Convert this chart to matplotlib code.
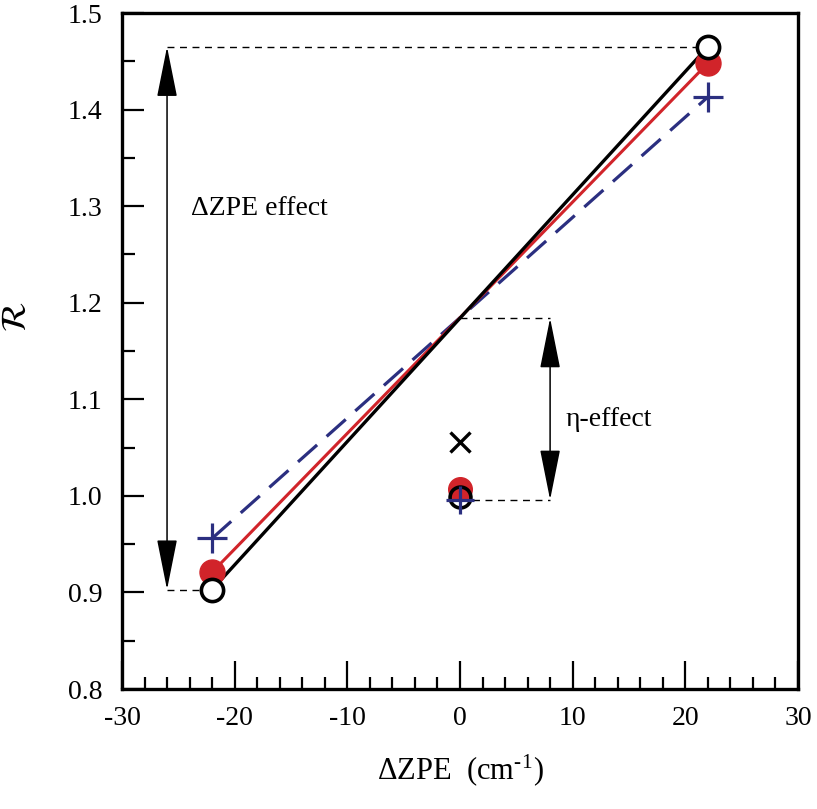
import matplotlib
matplotlib.use("Agg")
import matplotlib.pyplot as plt
from matplotlib.patches import FancyArrowPatch
from matplotlib.ticker import MultipleLocator

plt.rcParams['font.family'] = ['Liberation Serif', 'DejaVu Serif']
plt.rcParams['mathtext.fontset'] = 'stix'

# data
dzpe = [-22, 22]
r_black = [0.903, 1.465]
r_red = [0.921, 1.448]
r_blue = [0.956, 1.413]
x_center = [0]
center_cross = [1.056]
center_red = [1.007]
center_black = [0.999]
center_blue = [0.996]
# annotation arrows
zpe_arrow_x = -26
zpe_arrow_y = [0.903, 1.465]
eta_arrow_x = 8
eta_arrow_y = [1.184, 0.996]
xtick_vals = [-30, -20, -10, 0, 10, 20, 30]
xtick_labels = ['-30', '-20', '-10', '0', '10', '20', '30']
ytick_vals = [0.8, 0.9, 1.0, 1.1, 1.2, 1.3, 1.4, 1.5]
ytick_labels = ['0.8', '0.9', '1.0', '1.1', '1.2', '1.3', '1.4', '1.5']

fig = plt.figure(figsize=(8.17, 8.09), dpi=100)
ax = fig.add_axes([0.1493, 0.1483, 0.9767 - 0.1493, 0.9839 - 0.1483])

navy = '#2b2f80'
red = '#d1242a'

# dashed guide lines
guide = dict(color='black', lw=1.0, ls=(0, (5, 4)), zorder=1)
ax.plot([zpe_arrow_x, dzpe[1]], [zpe_arrow_y[1], zpe_arrow_y[1]], **guide)
ax.plot([zpe_arrow_x, dzpe[0]], [zpe_arrow_y[0], zpe_arrow_y[0]], **guide)
ax.plot([0, eta_arrow_x], [eta_arrow_y[0], eta_arrow_y[0]], **guide)
ax.plot([0, eta_arrow_x], [eta_arrow_y[1], eta_arrow_y[1]], **guide)

# arrows
for xa, ys in [(zpe_arrow_x, zpe_arrow_y), (eta_arrow_x, eta_arrow_y)]:
    arr = FancyArrowPatch((xa, ys[0]), (xa, ys[1]),
                          arrowstyle='<|-|>,head_length=1.6,head_width=0.32',
                          mutation_scale=20, color='black', lw=1.1,
                          shrinkA=0, shrinkB=0, zorder=2)
    ax.add_patch(arr)

# lines
ax.plot(dzpe, r_blue, color=navy, lw=2.3, ls=(0, (8, 4)), zorder=3)
ax.plot(dzpe, r_red, color=red, lw=2.2, zorder=4)
ax.plot(dzpe, r_black, color='black', lw=2.4, zorder=5)

# markers
ax.plot(dzpe, r_red, 'o', color=red, ms=18, mec=red, zorder=6)
ax.plot(dzpe, r_black, 'o', mfc='white', mec='black', ms=16, mew=2.6, zorder=7)
ax.plot(dzpe, r_blue, '+', color=navy, ms=21, mew=2.3, zorder=8)

ax.plot(x_center, center_red, 'o', color=red, ms=17, zorder=6)
ax.plot(x_center, center_black, 'o', mfc='none', mec='black', ms=15, mew=2.6, zorder=7)
ax.plot(x_center, center_blue, '+', color=navy, ms=20, mew=2.3, zorder=8)
ax.plot(x_center, center_cross, 'x', color='black', ms=15, mew=2.4, zorder=8)

# texts
ax.text(-23.9, 1.298, 'ΔZPE effect', fontsize=20, va='center', ha='left')
ax.text(9.4, 1.079, 'η-effect', fontsize=20, va='center', ha='left')

ax.set_xlim(-30, 30)
ax.set_ylim(0.8, 1.5)
ax.xaxis.set_minor_locator(MultipleLocator(2))
ax.yaxis.set_minor_locator(MultipleLocator(0.05))
ax.set_xticks(xtick_vals)
ax.set_xticklabels(xtick_labels)
ax.set_yticks(ytick_vals)
ax.set_yticklabels(ytick_labels)

for s in ax.spines.values():
    s.set_linewidth(2.4)

ax.tick_params(axis='x', which='major', direction='in', length=20, width=1.6, labelsize=20, pad=12, top=False)
ax.tick_params(axis='x', which='minor', direction='in', length=9, width=1.6, top=False)
ax.tick_params(axis='y', which='major', direction='in', length=16, width=1.6, labelsize=20, pad=14, right=False)
ax.tick_params(axis='y', which='minor', direction='in', length=9, width=1.6, right=False)

ax.set_xlabel('ΔZPE  (cm$^{\\mathregular{\u2010 1}}$)'.replace('\u2010 ', '\u20101'[:1]), fontsize=22, labelpad=16)
ax.set_ylabel('$\\mathcal{R}$', fontsize=25)
ax.yaxis.set_label_coords(-0.13, 0.55)

fig.savefig('out.png', dpi=100)
